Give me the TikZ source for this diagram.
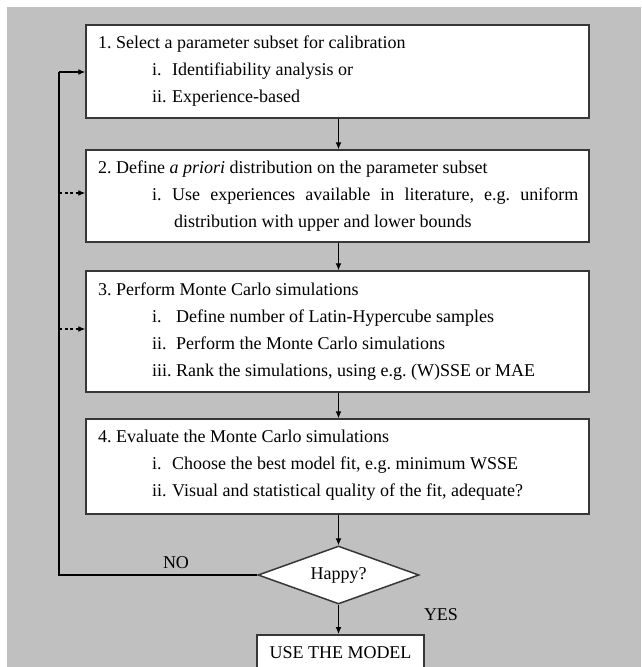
\documentclass[tikz,border=0pt]{standalone}
\usepackage{fontspec}
\setmainfont{Liberation Serif}
\usetikzlibrary{arrows.meta,shapes.geometric}
\definecolor{bggray}{RGB}{192,192,192}
\definecolor{boxline}{RGB}{55,55,55}
\frenchspacing
\tikzset{
  stepbox/.style={draw=boxline,line width=1.5pt,fill=white,rectangle,inner sep=0pt},
  txt/.style={anchor=base west,inner sep=0pt,font=\fontsize{18}{21}\selectfont},
  lbl/.style={anchor=base,inner sep=0pt,font=\fontsize{18}{21}\selectfont},
  flow/.style={draw=black,line width=1.1pt,-{Latex[length=7pt,width=6pt]}},
  dflow/.style={flow,dash pattern=on 3pt off 2.5pt},
  plain/.style={draw=black,line width=1.1pt}
}
\begin{document}
\begin{tikzpicture}[x=1pt,y=-1pt]
\useasboundingbox (0,0) rectangle (641,667);
\clip (0,0) rectangle (641,667);
\fill[white] (0,0) rectangle (641,667);
\fill[bggray] (7,7) rectangle (641,667);

% boxes
\node[stepbox,minimum width=503pt,minimum height=93pt] (b1) at (337.5,71.5) {};
\node[stepbox,minimum width=503pt,minimum height=92pt] (b2) at (337.5,196) {};
\node[stepbox,minimum width=503pt,minimum height=121pt] (b3) at (337.5,331.5) {};
\node[stepbox,minimum width=503pt,minimum height=95pt] (b4) at (337.5,466.5) {};
\node[diamond,draw=boxline,line width=1.5pt,fill=white,inner sep=0pt,aspect=2.78,
      minimum width=161pt,minimum height=58pt,font=\fontsize{18}{21}\selectfont] (happy) at (338.5,575) {Happy?};
\node[stepbox,minimum width=167pt,minimum height=60pt,anchor=north] (use) at (340.5,634) {};

% box 1 text
\node[txt] (t1) at (98,48) {1. Select a parameter subset for calibration};
\node[txt] (t1a) at (152,75) {i.};
\node[txt] (t1b) at (172,75) {Identifiability analysis or};
\node[txt] (t1c) at (152,102) {ii.};
\node[txt] (t1d) at (172,102) {Experience-based};
% box 2 text
\node[txt] (t2) at (98,173) {2. Define \textit{a priori} distribution on the parameter subset};
\node[txt] (t2a) at (152,200) {i.};
\node[txt] (t2b) at (172,200) {\makebox[406pt][s]{Use experiences available in literature, e.g. uniform}};
\node[txt] (t2c) at (174,227) {distribution with upper and lower bounds};
% box 3 text
\node[txt] (t3) at (98,295) {3. Perform Monte Carlo simulations};
\node[txt] (t3a) at (152,322) {i.};
\node[txt] (t3b) at (176,322) {Define number of Latin-Hypercube samples};
\node[txt] (t3c) at (152,349) {ii.};
\node[txt] (t3d) at (176,349) {Perform the Monte Carlo simulations};
\node[txt] (t3e) at (152,376) {iii.};
\node[txt] (t3f) at (176,376) {Rank the simulations, using e.g. (W)SSE or MAE};
% box 4 text
\node[txt] (t4) at (98,442) {4. Evaluate the Monte Carlo simulations};
\node[txt] (t4a) at (152,469) {i.};
\node[txt] (t4b) at (172,469) {Choose the best model fit, e.g. minimum WSSE};
\node[txt] (t4c) at (152,496) {ii.};
\node[txt] (t4d) at (172,496) {Visual and statistical quality of the fit, adequate?};
% use box text
\node[lbl] (tuse) at (340.5,658) {USE THE MODEL};
% labels
\node[lbl] (no) at (176,568) {NO};
\node[lbl] (yes) at (441,620) {YES};

% connectors
\draw[flow] (b1.south -| happy.north) -- (b2.north -| happy.north);
\draw[flow] (b2.south -| happy.north) -- (b3.north -| happy.north);
\draw[flow] (b3.south -| happy.north) -- (b4.north -| happy.north);
\draw[flow] (b4.south -| happy.north) -- (happy.north);
\draw[flow] (happy.south) -- (use.north -| happy.south);

\coordinate (lb) at (59,575);
\coordinate (lt) at (59,72);
\coordinate (d2) at (59,193);
\coordinate (d3) at (59,329);
\draw[plain] (happy.west) -- (lb) -- (lt);
\draw[flow] (lt) -- (lt -| b1.west);
\draw[dflow] (d2) -- (d2 -| b2.west);
\draw[dflow] (d3) -- (d3 -| b3.west);
\end{tikzpicture}
\end{document}
